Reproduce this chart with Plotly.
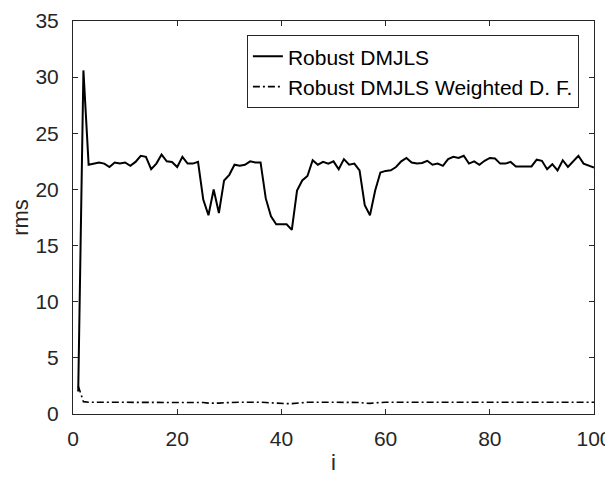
import plotly.graph_objects as go

i_values = list(range(1, 101))

robust_dmjls = [
    2.0, 30.6, 22.2, 22.3, 22.4, 22.3, 22.0, 22.4, 22.3, 22.4,
    22.1, 22.45, 23.0, 22.9, 21.8, 22.3, 23.1, 22.5, 22.45, 22.0,
    22.9, 22.3, 22.3, 22.45, 19.1, 17.7, 20.0, 17.9, 20.8, 21.3,
    22.2, 22.1, 22.2, 22.5, 22.4, 22.4, 19.2, 17.6, 16.9, 16.9,
    16.9, 16.4, 19.9, 20.8, 21.2, 22.6, 22.2, 22.45, 22.3, 22.5,
    21.8, 22.7, 22.2, 22.3, 21.7, 18.6, 17.7, 19.9, 21.5, 21.65,
    21.7, 22.0, 22.5, 22.8, 22.4, 22.3, 22.35, 22.55, 22.2, 22.3,
    22.1, 22.7, 22.9, 22.8, 23.0, 22.3, 22.5, 22.2, 22.55, 22.8,
    22.75, 22.3, 22.3, 22.45, 22.05, 22.05, 22.05, 22.05, 22.65, 22.55,
    21.8, 22.25, 21.7, 22.6, 22.0, 22.5, 23.0, 22.3, 22.1, 21.95,
]

robust_weighted = [
    2.5, 1.1, 1.05, 1.05, 1.05, 1.06, 1.05, 1.05, 1.06, 1.05,
    1.05, 1.05, 1.06, 1.05, 1.05, 1.05, 1.06, 1.05, 1.05, 1.05,
    1.06, 1.05, 1.05, 1.05, 1.02, 0.97, 0.95, 0.97, 1.0, 1.03,
    1.05, 1.05, 1.05, 1.06, 1.05, 1.05, 1.02, 0.98, 0.94, 0.92,
    0.92, 0.92, 0.98, 1.02, 1.04, 1.05, 1.05, 1.06, 1.05, 1.05,
    1.05, 1.06, 1.05, 1.05, 1.03, 0.97, 0.95, 1.0, 1.04, 1.05,
    1.05, 1.05, 1.06, 1.06, 1.05, 1.05, 1.05, 1.06, 1.05, 1.05,
    1.05, 1.06, 1.06, 1.06, 1.06, 1.05, 1.05, 1.05, 1.06, 1.06,
    1.06, 1.05, 1.05, 1.05, 1.05, 1.05, 1.05, 1.05, 1.06, 1.06,
    1.05, 1.05, 1.05, 1.06, 1.05, 1.05, 1.06, 1.05, 1.05, 1.05,
]

x_ticks = [0, 20, 40, 60, 80, 100]
y_ticks = [0, 5, 10, 15, 20, 25, 30, 35]

axis_color = "#262626"
font_family = "Liberation Sans, Arial, sans-serif"

fig = go.Figure()
fig.add_trace(go.Scatter(
    x=i_values, y=robust_dmjls, mode="lines", name="Robust DMJLS",
    line=dict(color="black", width=2),
))
fig.add_trace(go.Scatter(
    x=i_values, y=robust_weighted, mode="lines", name="Robust DMJLS Weighted D. F.",
    line=dict(color="black", width=1.6, dash="7px,3px,2px,3px"),
))

# The page body has an 8px default margin; the figure size compensates for it.
fig.update_layout(
    width=605, height=474,
    margin=dict(l=65, r=19, t=13, b=68, autoexpand=False),
    paper_bgcolor="white", plot_bgcolor="white",
    font=dict(family=font_family, color=axis_color, size=21),
    showlegend=True,
    legend=dict(
        x=0.971, y=0.964, xanchor="right", yanchor="top",
        bgcolor="white", bordercolor=axis_color, borderwidth=1,
        font=dict(size=21, color="black", family=font_family),
        tracegroupgap=0,
    ),
    xaxis=dict(
        range=[0, 100], tickvals=x_ticks, ticktext=[str(v) for v in x_ticks],
        showgrid=False, zeroline=False, showline=True, mirror="ticks",
        linecolor=axis_color, linewidth=1, ticks="inside", ticklen=5,
        tickcolor=axis_color, tickfont=dict(size=21, color=axis_color),
        ticklabelstandoff=6, automargin=False,
        title=dict(text="i", font=dict(size=22, color=axis_color), standoff=5),
    ),
    yaxis=dict(
        range=[0, 35], tickvals=y_ticks, ticktext=[str(v) for v in y_ticks],
        showgrid=False, zeroline=False, showline=True, mirror="ticks",
        linecolor=axis_color, linewidth=1, ticks="inside", ticklen=5,
        tickcolor=axis_color, tickfont=dict(size=21, color=axis_color),
        ticklabelstandoff=9, automargin=False,
        title=dict(text="rms", font=dict(size=22, color=axis_color), standoff=7),
    ),
)

fig.write_html("out.html")
